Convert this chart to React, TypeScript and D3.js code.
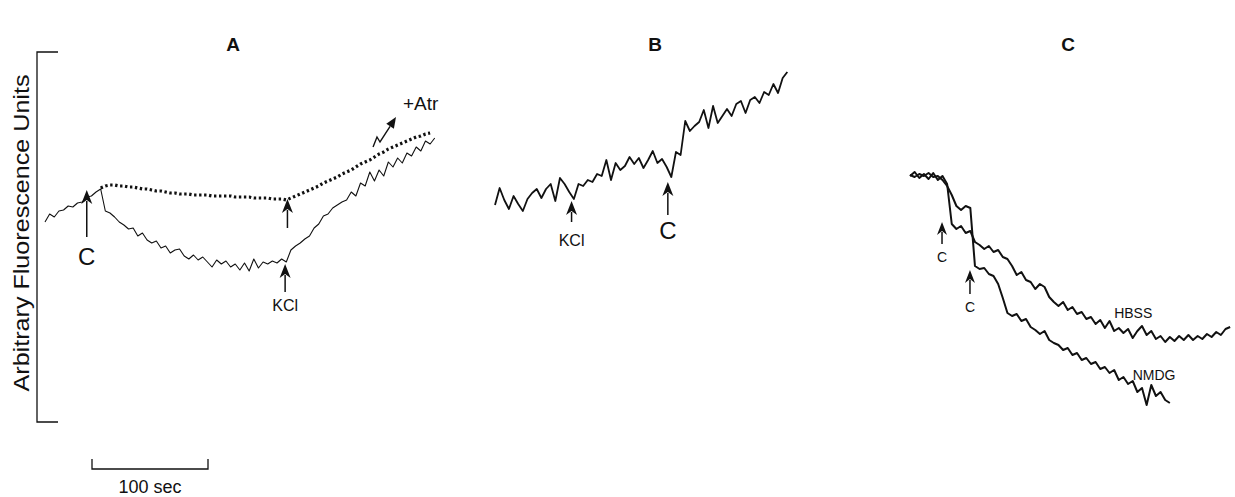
import React, { useEffect, useRef } from 'react';
import * as d3 from 'd3';

// sampling interval of every trace, in seconds
const STEP = 4;

// panel A: control trace (solid), C added at ~36 s, KCl at ~207 s
const traceA = [
  200, 208, 205, 211, 212, 216, 215, 219, 220, 225, 226, 230, 233, 211, 209, 205, 200, 197, 193, 194,
  186, 189, 182, 179, 181, 174, 176, 169, 172, 173, 166, 163, 167, 162, 165, 160, 155, 162, 158, 161,
  155, 158, 152, 159, 151, 163, 154, 160, 158, 161, 159, 163, 160, 172, 176, 179, 183, 186, 194, 198,
  206, 208, 214, 217, 220, 222, 230, 226, 239, 236, 250, 241, 252, 246, 260, 255, 264, 259, 269, 266,
  275, 271, 281, 278, 284,
];
// panel A: atropine trace (dotted), begins at sample 12
const dottedStart = 12;
const dottedA = [
  234, 236, 237, 237, 236, 236, 235, 235, 234, 233, 233, 232, 231, 231, 230, 229, 229, 228, 228, 228,
  227, 227, 227, 227, 226, 226, 226, 226, 226, 225, 225, 225, 225, 224, 224, 224, 224, 223, 223, 223,
  222, 224, 226, 228, 230, 232, 234, 236, 239, 241, 243, 245, 248, 250, 252, 255, 258, 260, 262, 265,
  268, 270, 273, 275, 277, 279, 281, 283, 285, 286, 288, 289,
];

// panel B
const traceB = [
  217, 234, 222, 213, 226, 218, 211, 223, 229, 233, 224, 233, 238, 221, 244, 238, 230, 223, 238, 236,
  242, 240, 248, 246, 262, 242, 259, 252, 256, 265, 258, 264, 254, 262, 271, 259, 263, 255, 245, 270,
  267, 301, 291, 296, 300, 312, 294, 316, 299, 306, 313, 306, 318, 321, 309, 322, 325, 319, 330, 327,
  338, 329, 344, 350,
];

// panel C
const traceHBSS = [
  246, 250, 244, 248, 243, 249, 242, 246, 238, 198, 193, 196, 189, 191, 180, 177, 173, 176, 170, 172,
  165, 163, 156, 147, 150, 142, 140, 133, 138, 135, 125, 120, 116, 120, 112, 115, 108, 110, 103, 105,
  98, 102, 94, 101, 91, 94, 89, 93, 84, 91, 96, 87, 91, 83, 86, 80, 85, 81, 86, 82,
  87, 82, 86, 83, 88, 85, 90, 87, 93, 95,
];
const traceNMDG = [
  247, 245, 248, 246, 249, 245, 246, 242, 236, 227, 216, 212, 216, 214, 156, 153, 154, 148, 146, 138,
  124, 109, 106, 108, 101, 103, 95, 92, 88, 91, 82, 79, 77, 72, 74, 67, 69, 62, 64, 58,
  60, 53, 55, 49, 52, 42, 45, 38, 41, 30, 34, 17, 37, 26, 30, 22, 19,
];

// arrows: panel, time (s), tip value, tail value, label, label value
const arrows = [
  { panel: 'A', t: 36, tip: 232, tail: 185, label: 'C', labelV: 157, big: true },
  { panel: 'A', t: 209, tip: 223, tail: 194, label: '', labelV: 0, big: false },
  { panel: 'A', t: 207, tip: 158, tail: 130, label: 'KCl', labelV: 111, big: false },
  { panel: 'B', t: 66, tip: 221, tail: 200, label: 'KCl', labelV: 176, big: false },
  { panel: 'B', t: 149, tip: 240, tail: 207, label: 'C', labelV: 183, big: true },
  { panel: 'C', t: 27.6, tip: 200, tail: 178, label: 'C', labelV: 160, small: true },
  { panel: 'C', t: 51.7, tip: 152, tail: 128, label: 'C', labelV: 110, small: true },
];
// atropine zig-zag arrow in panel A: [time, value]
const atrArrow = [[282.8, 275], [286.2, 285], [288.8, 280], [302.6, 305]];
const atrLabel = { t: 308.6, v: 312, text: '+Atr' };
const traceLabels = [
  { t: 176, v: 104, text: 'HBSS' },
  { t: 192, v: 42, text: 'NMDG' },
];
const panelTitles = ['A', 'B', 'C'];

const FONT = '"Liberation Sans", Arial, Helvetica, sans-serif';

function App() {
  const ref = useRef(null);

  useEffect(() => {
    const svg = d3.select(ref.current);
    svg.selectAll('*').remove();

    const pxPerSec = 1.16;
    const origin = { A: 45, B: 495, C: 910 };
    const titleX = { A: 233, B: 655, C: 1068 };
    const xs = {};
    Object.entries(origin).forEach(([k, x0]) => {
      xs[k] = d3.scaleLinear().domain([0, 100]).range([x0, x0 + 100 * pxPerSec]);
    });
    const y = d3.scaleLinear().domain([0, 370]).range([422, 52]);

    const g = svg.append('g');

    // y bracket
    const [yb, yt] = y.range();
    g.append('path')
      .attr('d', `M58,${yt}H37V${yb}H58`)
      .attr('fill', 'none')
      .attr('stroke', '#111')
      .attr('stroke-width', 1.3);
    g.append('text')
      .attr('transform', `translate(29,${(yt + yb) / 2 - 4}) rotate(-90)`)
      .attr('text-anchor', 'middle')
      .attr('font-family', FONT)
      .attr('font-size', 22)
      .attr('textLength', 317)
      .attr('lengthAdjust', 'spacingAndGlyphs')
      .attr('fill', '#111')
      .text('Arbitrary Fluorescence Units');

    // titles
    panelTitles.forEach(p => {
      g.append('text')
        .attr('x', titleX[p])
        .attr('y', 51)
        .attr('text-anchor', 'middle')
        .attr('font-family', '"Liberation Sans Narrow", ' + FONT)
        .attr('font-weight', 'bold')
        .attr('font-size', 19)
        .attr('fill', '#111')
        .text(p);
    });

    const line = (panel, offset) =>
      d3.line()
        .x((d, i) => xs[panel]((i + offset) * STEP))
        .y(d => y(d));

    const drawTrace = (data, panel, offset, width, dash) => {
      const p = g.append('path')
        .datum(data)
        .attr('fill', 'none')
        .attr('stroke', '#111')
        .attr('stroke-width', width)
        .attr('stroke-linejoin', 'round')
        .attr('d', line(panel, offset));
      if (dash) p.attr('stroke-dasharray', dash);
    };

    drawTrace(traceA, 'A', 0, 1.1);
    drawTrace(dottedA, 'A', dottedStart, 3.2, '2.4,2.6');
    drawTrace(traceB, 'B', 0, 1.8);
    drawTrace(traceHBSS, 'C', 0, 2);
    drawTrace(traceNMDG, 'C', 0, 2);

    // event arrows
    arrows.forEach(a => {
      const x = xs[a.panel](a.t);
      const yt2 = y(a.tip);
      const yb2 = y(a.tail);
      const hw = a.small ? 5 : 5.5;
      const hh = a.small ? 13 : 14;
      g.append('line')
        .attr('x1', x).attr('x2', x)
        .attr('y1', yt2 + hh - 3).attr('y2', yb2)
        .attr('stroke', '#111').attr('stroke-width', 1.5);
      g.append('path')
        .attr('d', `M${x},${yt2}L${x + hw},${yt2 + hh}L${x},${yt2 + hh - 4}L${x - hw},${yt2 + hh}Z`)
        .attr('fill', '#111');
      if (a.label) {
        g.append('text')
          .attr('x', x)
          .attr('y', y(a.labelV))
          .attr('text-anchor', 'middle')
          .attr('font-family', FONT)
          .attr('font-size', a.big ? 24 : a.small ? 14 : 16)
          .attr('fill', '#111')
          .text(a.label);
      }
    });

    // atropine arrow
    const atrPts = atrArrow.map(([t, v]) => [xs.A(t), y(v)]);
    const [ex, ey] = atrPts[atrPts.length - 1];
    const [sx, sy] = atrPts[atrPts.length - 2];
    const ang = Math.atan2(ey - sy, ex - sx);
    const back = 11;
    const bx = ex - back * Math.cos(ang);
    const by = ey - back * Math.sin(ang);
    g.append('path')
      .attr('d', d3.line()(atrPts.slice(0, -1).concat([[bx, by]])))
      .attr('fill', 'none')
      .attr('stroke', '#111')
      .attr('stroke-width', 1.4);
    const px = -Math.sin(ang) * 4.5;
    const py = Math.cos(ang) * 4.5;
    g.append('path')
      .attr('d', `M${ex},${ey}L${bx + px},${by + py}L${bx - px},${by - py}Z`)
      .attr('fill', '#111');
    g.append('text')
      .attr('x', xs.A(atrLabel.t))
      .attr('y', y(atrLabel.v))
      .attr('font-family', FONT)
      .attr('font-size', 19)
      .attr('fill', '#111')
      .text(atrLabel.text);

    traceLabels.forEach(l => {
      g.append('text')
        .attr('x', xs.C(l.t))
        .attr('y', y(l.v))
        .attr('font-family', FONT)
        .attr('font-size', 14)
        .attr('fill', '#111')
        .text(l.text);
    });

    // scale bar: 100 sec
    const s0 = 92;
    const s1 = s0 + (xs.A(100) - xs.A(0));
    g.append('path')
      .attr('d', `M${s0},459V469H${s1}V459`)
      .attr('fill', 'none')
      .attr('stroke', '#111')
      .attr('stroke-width', 1.3);
    g.append('text')
      .attr('x', (s0 + s1) / 2)
      .attr('y', 493)
      .attr('text-anchor', 'middle')
      .attr('font-family', FONT)
      .attr('font-size', 18)
      .attr('fill', '#111')
      .text('100 sec');
  }, []);

  return (
    <svg
      ref={ref}
      width={1235}
      height={497}
      style={{ position: 'absolute', left: 0, top: 0, background: '#fff' }}
    />
  );
}

export default App;
